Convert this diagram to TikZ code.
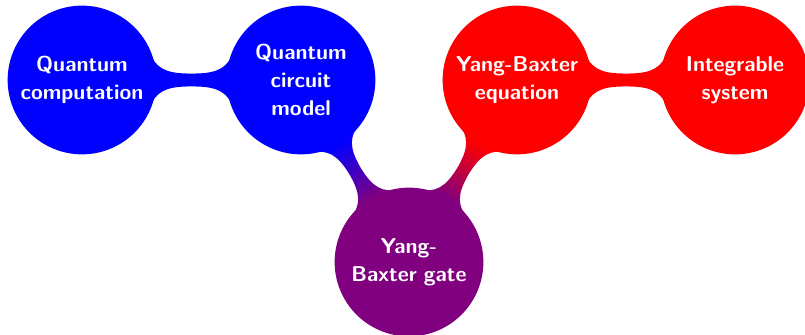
\documentclass[tikz,border=0pt]{standalone}
\usetikzlibrary{mindmap,backgrounds}
\definecolor{ybpurple}{RGB}{128,0,128}
\begin{document}
\begin{tikzpicture}[mindmap, x=0.7pt, y=-0.7pt,
  idea/.style={concept, minimum size=102.9pt, text width=87pt, align=center,
    font=\fontsize{15}{19.6}\selectfont\sffamily\bfseries, text=white, inner sep=0pt}]
\useasboundingbox (0,0) rectangle (805,335);
\node[idea, concept color=ybpurple] (ybg) at (409,262) {Yang-\\Baxter gate};
\node[idea, concept color=blue] (qcm) at (301,80) {Quantum\\circuit\\model};
\node[idea, concept color=red] (ybe) at (517,80) {Yang-Baxter\\equation};
\node[idea, concept color=blue] (qc) at (82,80) {Quantum\\computation};
\node[idea, concept color=red] (is) at (735,80) {Integrable\\system};
\begin{scope}[on background layer]
\path (ybg) to[circle connection bar switch color=from (ybpurple) to (blue)] (qcm);
\path (ybg) to[circle connection bar switch color=from (ybpurple) to (red)] (ybe);
\path (qcm) to[circle connection bar switch color=from (blue) to (blue)] (qc);
\path (ybe) to[circle connection bar switch color=from (red) to (red)] (is);
\end{scope}
\end{tikzpicture}
\end{document}
